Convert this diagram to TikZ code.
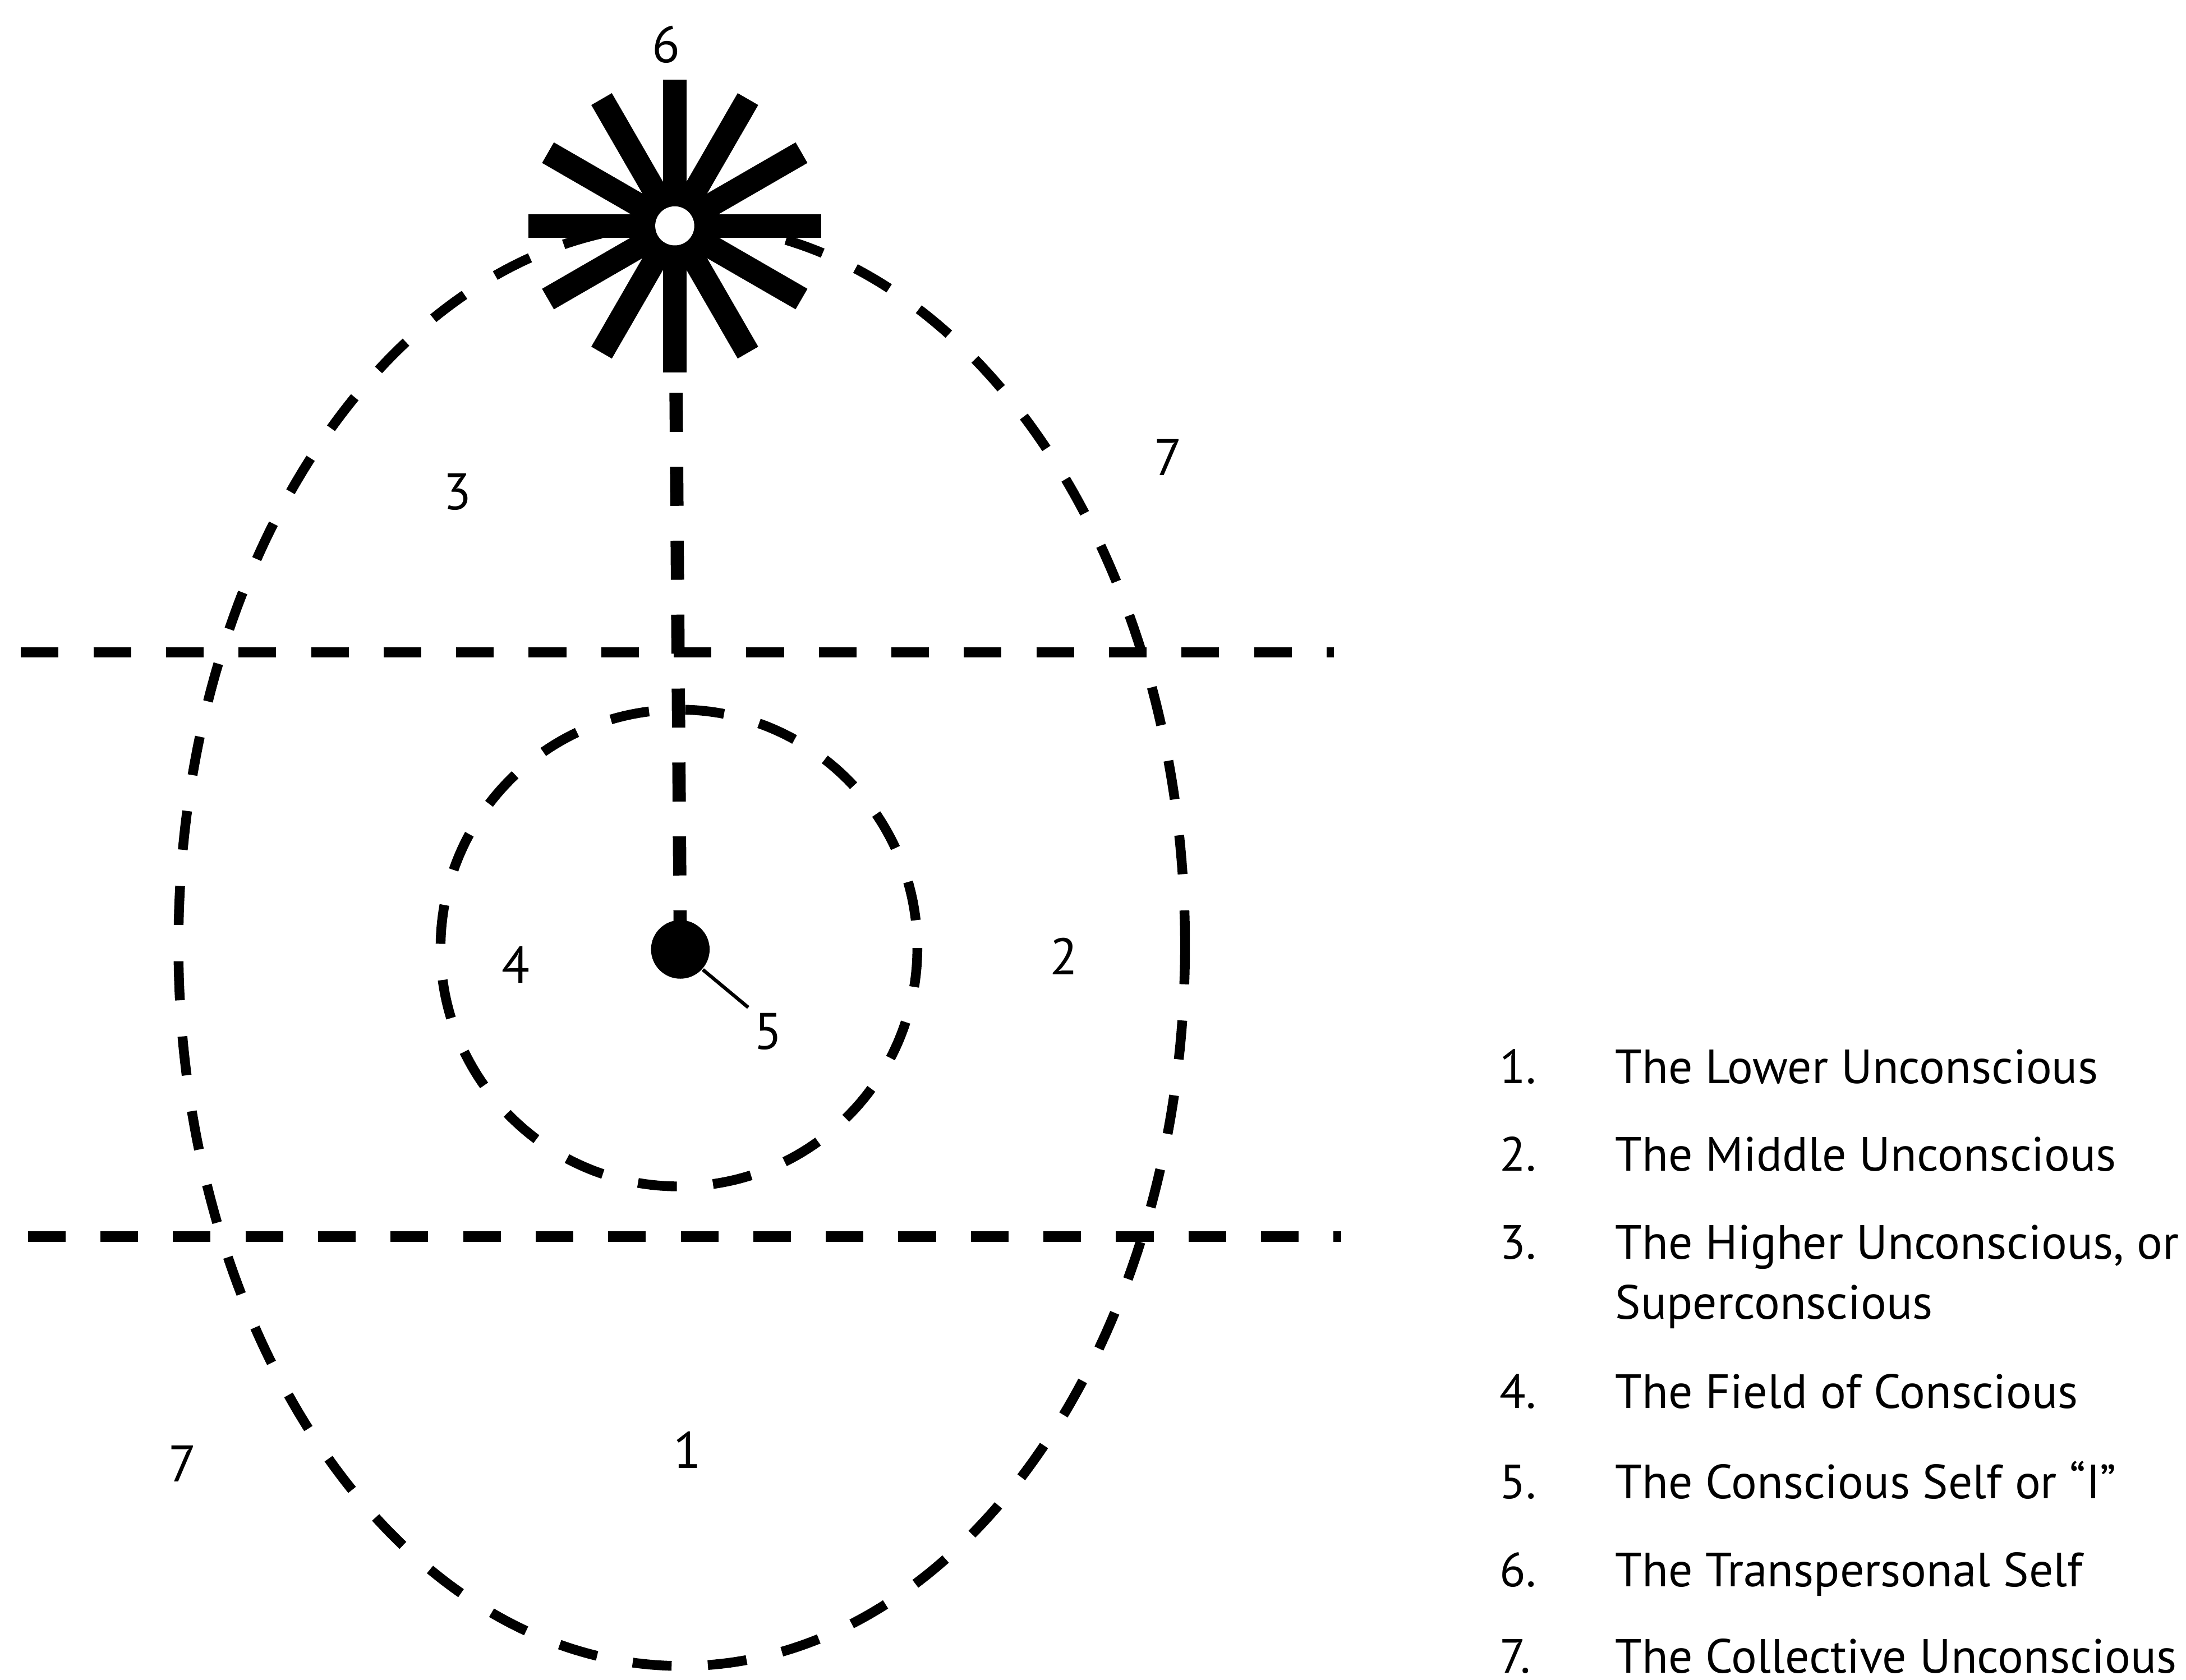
\documentclass[tikz,border=0pt]{standalone}
\usepackage{fontspec}
\setmainfont{PT Sans}
\usetikzlibrary{positioning}

\tikzset{
  zone/.style={line width=0.07cm, dash pattern=on 0.28cm off 0.26cm},
  level/.style={line width=0.075cm, dash pattern=on 0.27cm off 0.25cm},
  link/.style={line width=0.095cm, dash pattern=on 0.28cm off 0.25cm},
  num/.style={font=\fontsize{10.5}{12}\selectfont, inner sep=1pt},
  legend/.style={font=\fontsize{9.8}{12}\selectfont, inner sep=0pt, anchor=base west},
}

\begin{document}
\begin{tikzpicture}[x=0.01cm,y=-0.01cm]
  \useasboundingbox (0,0) rectangle (1568,1205);

  % levels of the unconscious
  \draw[level] (15,468) -- (957,468);
  \draw[level] (20,887) -- (962,887);
  \draw[zone] (489,678) ellipse [x radius=361, y radius=517];
  \draw[zone] (487,680) circle [radius=171];

  % the two selves
  \node[circle, fill=black, minimum size=0.42cm, inner sep=0pt] (self) at (488,681) {};
  \node[circle, fill=black, minimum size=0.64cm, inner sep=0pt] (star) at (484,162) {};
  \draw[link] (self.center) -- (star);
  \foreach \a in {0,30,...,330}
    \draw[line width=0.17cm] (star.center) -- ++(\a:105);
  \fill[white] (star.center) circle [radius=14];

  % region numbers
  \node[num] (lab6) at (478,32) {6};
  \node[num] (lab3) at (328,353) {3};
  \node[num] (lab7a) at (838,328) {7};
  \node[num] (lab4) at (370,692) {4};
  \node[num] (lab2) at (763,686) {2};
  \node[num] (lab5) at (551,740) {5};
  \node[num] (lab1) at (493,1040) {1};
  \node[num] (lab7b) at (131,1050) {7};
  \draw[line width=0.025cm] (self.-42) -- (lab5.north west);

  % key
  \foreach \n/\y/\txt in {1/777/The Lower Unconscious, 2/840/The Middle Unconscious,
      3/903/{The Higher Unconscious, or}, 4/1010/The Field of Conscious,
      5/1075/The Conscious Self or “I”, 6/1138/The Transpersonal Self,
      7/1200/The Collective Unconscious} {
    \node[legend] (n\n) at (1075,\y) {\n.};
    \node[legend] (t\n) at (1158,\y) {\txt};
  }
  \node[legend] (t3b) at (1158,946) {Superconscious};
\end{tikzpicture}
\end{document}
